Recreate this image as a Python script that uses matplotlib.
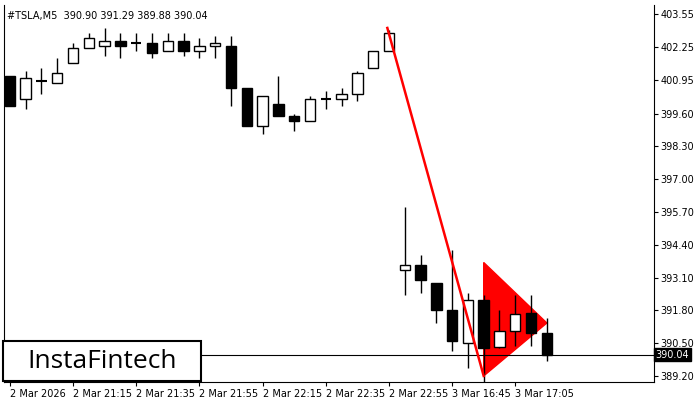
import matplotlib.pyplot as plt
from matplotlib.patches import Polygon, Rectangle

# candles: open, high, low, close (M5, TSLA)
opens = [401.1, 400.2, 400.9, 400.8, 401.6, 402.2, 402.3, 402.5, 402.4, 402.4, 402.1, 402.5, 402.1, 402.3,
         402.3, 400.6, 399.1, 400.0, 399.5, 399.3, 400.2, 400.2, 400.4, 401.4, 402.1,
         393.4, 393.6, 392.9, 391.8, 390.5, 392.2, 390.35, 391.0, 391.7, 390.9]
highs = [401.1, 401.3, 401.4, 401.8, 402.4, 402.8, 403.0, 402.8, 402.8, 402.8, 402.8, 402.8, 402.6, 402.7,
         402.7, 400.6, 400.3, 401.1, 399.6, 400.3, 400.5, 400.6, 401.3, 401.8, 402.9,
         395.9, 394.0, 392.8, 394.2, 392.5, 392.4, 391.8, 392.4, 392.4, 391.5]
lows = [399.9, 399.8, 400.4, 400.8, 401.6, 402.2, 401.9, 401.8, 402.1, 401.8, 402.1, 401.9, 401.8, 401.8,
        399.9, 399.1, 398.8, 399.5, 398.9, 399.3, 399.8, 399.9, 400.1, 401.4, 402.1,
        392.4, 392.5, 391.3, 390.2, 389.5, 388.7, 390.3, 390.4, 390.4, 389.8]
closes = [399.9, 401.0, 400.9, 401.2, 402.2, 402.6, 402.5, 402.3, 402.4, 402.0, 402.5, 402.1, 402.3, 402.4,
          400.6, 399.1, 400.3, 399.5, 399.3, 400.2, 400.2, 400.4, 401.2, 402.1, 402.8,
          393.6, 393.0, 391.8, 390.6, 392.2, 390.3, 391.0, 391.65, 390.9, 390.04]

yticks = [403.55, 402.25, 400.95, 399.60, 398.30, 397.00, 395.70, 394.40, 393.10, 391.80, 390.50, 389.20]
xtick_pos = [0, 4, 8, 12, 16, 20, 24, 28, 32]
xtick_labels = ['2 Mar 2026', '2 Mar 21:15', '2 Mar 21:35', '2 Mar 21:55', '2 Mar 22:15',
                '2 Mar 22:35', '2 Mar 22:55', '3 Mar 16:45', '3 Mar 17:05']
last_price = 390.04

# pattern: flagpole line and pennant triangle
pole = [(23.9, 403.0), (30.0, 389.2)]
pennant = [(30.0, 393.7), (30.0, 389.2), (34.0, 391.3)]

fig = plt.figure(figsize=(7, 4), dpi=100)
ax = fig.add_axes([0.005, 1 - 382 / 400, 650 / 700, 377 / 400])
ax.set_xlim(-0.4, 40.75)
ax.set_ylim(388.96, 403.91)

ax.add_patch(Polygon(pennant, closed=True, color='red', zorder=1))
ax.plot([p[0] for p in pole], [p[1] for p in pole], color='red', lw=1.8, zorder=4)

w = 0.66
for i, (o, h, l, c) in enumerate(zip(opens, highs, lows, closes)):
    ax.vlines(i, l, h, color='black', lw=1, zorder=2)
    lo, hi = min(o, c), max(o, c)
    face = 'white' if c >= o else 'black'
    if hi - lo < 0.05:
        ax.hlines(o, i - w / 2, i + w / 2, color='black', lw=1.5, zorder=3)
    else:
        ax.add_patch(Rectangle((i - w / 2, lo), w, hi - lo, facecolor=face,
                               edgecolor='black', lw=1, zorder=3))

ax.axhline(last_price, color='black', lw=0.8, zorder=1)

ax.yaxis.tick_right()
ax.set_yticks(yticks)
ax.set_yticklabels([f'{v:.2f}' for v in yticks], fontsize=7)
ax.set_xticks(xtick_pos)
ax.set_xticklabels(xtick_labels, fontsize=7, ha='left')
ax.tick_params(length=3, pad=2)
ax.spines['top'].set_visible(False)

ax.text(1.003, last_price, f'{last_price:.2f}', transform=ax.get_yaxis_transform(),
        fontsize=7, color='white', va='center', ha='left',
        bbox=dict(facecolor='black', edgecolor='black', pad=1.2))
ax.text(0.005, 0.985, '#TSLA,M5  390.90 391.29 389.88 390.04', transform=ax.transAxes,
        fontsize=7, va='top', ha='left')

# logo box
fig.patches.append(Rectangle((3 / 700, 1 - 381 / 400), 198 / 700, 40 / 400, transform=fig.transFigure,
                             facecolor='white', edgecolor='black', lw=1.5, zorder=10))
fig.text(102 / 700, 1 - 361 / 400, 'InstaFintech', fontsize=19, family='Open Sans',
         ha='center', va='center', zorder=11)

fig.savefig('out.png', dpi=100)
